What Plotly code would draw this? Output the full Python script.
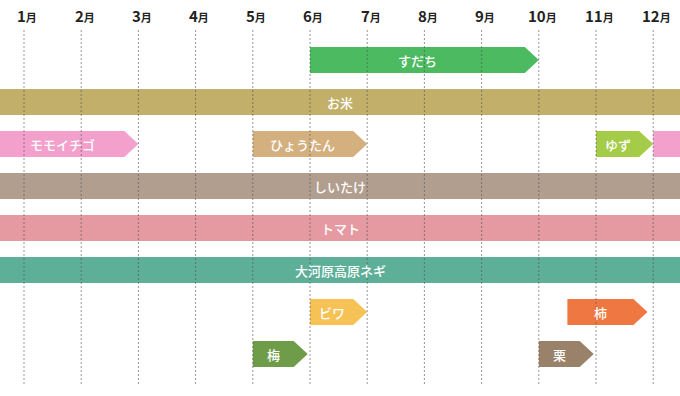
import plotly.graph_objects as go

# ---- data ----
months = list(range(1, 13))
month_labels = [f"{m}月" for m in months]

names  = ["すだち", "お米", "モモイチゴ", "", "ひょうたん", "ゆず", "しいたけ", "トマト",
          "大河原高原ネギ", "ビワ", "柿", "梅", "栗"]
rows   = [0, 1, 2, 2, 2, 2, 3, 4, 5, 6, 6, 7, 7]
starts = [6.0, 0.0, 0.0, 12.0, 5.0, 11.0, 0.0, 0.0, 0.0, 6.0, 10.5, 5.0, 10.0]
ends   = [10.0, 13.0, 3.0, 13.0, 7.0, 12.0, 13.0, 13.0, 13.0, 7.0, 11.9, 5.96, 10.96]
arrows = [True, False, True, False, True, True, False, False, False, True, True, True, True]
colors = ["#4BBA60", "#C2AF69", "#F3A0CD", "#F3A0CD", "#D4B07F", "#A4CC48", "#B29E8F",
          "#E59AA2", "#5DAF97", "#F7C255", "#EF7842", "#6E9C48", "#9A826A"]

# ---- geometry (styles) ----
X_MIN, X_MAX = 1 - 24 / 57.2, 1 + 656 / 57.2
Y_TOP, Y_BOT = -60 / 42, 336 / 42
HALF_H = 0.31
TIP = 0.245
FONT = "Noto Sans CJK JP"

fig = go.Figure()

for name, r, s, e, a, c in zip(names, rows, starts, ends, arrows, colors):
    body_end = e - TIP if a else e
    if a:
        xs = [s, body_end, e, body_end, s, s]
        ys = [r - HALF_H, r - HALF_H, r, r + HALF_H, r + HALF_H, r - HALF_H]
    else:
        xs = [s, e, e, s, s]
        ys = [r - HALF_H, r - HALF_H, r + HALF_H, r + HALF_H, r - HALF_H]
    fig.add_trace(go.Scatter(x=xs, y=ys, mode="lines", fill="toself", fillcolor=c,
                             line=dict(width=0, color=c), hoverinfo="skip", showlegend=False))
    if name:
        cx = (max(s, X_MIN) + min(body_end, X_MAX)) / 2
        fig.add_annotation(x=cx, y=r, text=name, showarrow=False,
                           font=dict(family=FONT, size=13, color="white", weight=500),
                           xanchor="center", yanchor="middle")

# dotted month lines
for m in months:
    fig.add_trace(go.Scatter(x=[m, m], y=[-0.714, 7.762], mode="lines",
                             line=dict(color="rgba(80,80,80,0.6)", width=1, dash="2px,2px"),
                             hoverinfo="skip", showlegend=False))

# month labels
for m, lab in zip(months, month_labels):
    num = lab[:-1]
    fig.add_annotation(x=m + 0.06, y=-1.071,
                       text=f"<b>{num}</b><span style='font-size:11px'><b>月</b></span>",
                       showarrow=False, font=dict(family=FONT, size=15, color="#222"),
                       xanchor="center", yanchor="middle")

fig.update_layout(
    width=680, height=396, margin=dict(l=0, r=0, t=0, b=0),
    plot_bgcolor="white", paper_bgcolor="white",
    xaxis=dict(range=[X_MIN, X_MAX], visible=False, fixedrange=True),
    yaxis=dict(range=[Y_BOT, Y_TOP], visible=False, fixedrange=True),
)

fig.write_html("out.html")
